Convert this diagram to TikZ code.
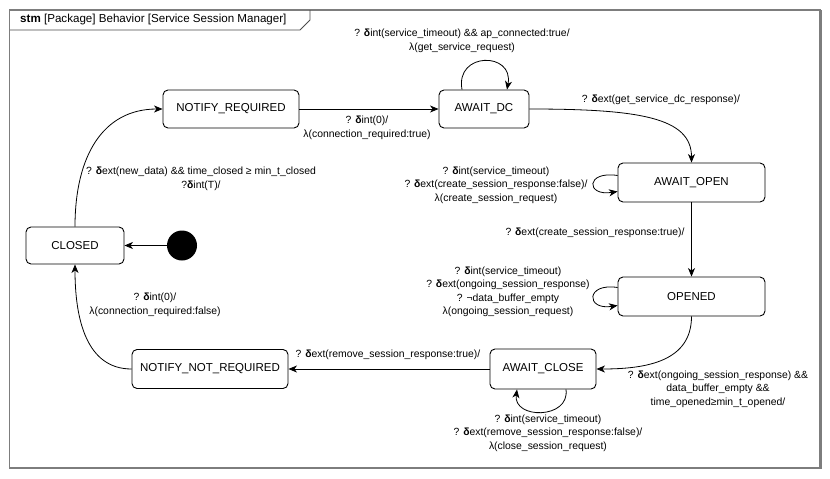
\documentclass[tikz,border=0pt]{standalone}
\usepackage{fontspec}
\setmainfont{Liberation Sans}
\usetikzlibrary{arrows.meta}
\newcommand{\dlt}{\textbf{δ}}
\definecolor{framegray}{RGB}{125,125,125}
\begin{document}
\begin{tikzpicture}[x=1pt,y=-1pt,
 state/.style={draw, rounded corners=5pt, line width=0.9pt, font=\fontsize{11.5}{13}\selectfont, inner sep=0pt},
 lbl/.style={font=\fontsize{10.4}{13.5}\selectfont, align=center, inner sep=0pt},
 tr/.style={draw, line width=0.8pt, -{Stealth[length=8.5pt,width=7pt,inset=2.5pt]}},
]
\useasboundingbox[fill=white] (0,0) rectangle (830,479);
% frame
\draw[framegray, line width=1.5pt] (9.5,10) rectangle (820,468);
\draw[framegray, line width=3pt] (820,10) -- (820,469);
\draw[line width=0.8pt, black!70] (10,30) -- (300,30) -- (310,20) -- (310,10);
\node[anchor=west, font=\fontsize{11.6}{13}\selectfont, inner sep=0pt] (title) at (20,19.5) {\textbf{stm} [Package] Behavior [Service Session Manager]};
% states
\node[state, minimum width=136pt, minimum height=38pt] (NR) at (231,109) {NOTIFY\_REQUIRED};
\node[state, minimum width=90pt, minimum height=38pt] (DC) at (484,109) {AWAIT\_DC};
\node[state, minimum width=147pt, minimum height=39pt] (AO) at (691.5,182.5) {AWAIT\_OPEN};
\node[state, minimum width=147pt, minimum height=39pt] (OP) at (691.5,296.5) {OPENED};
\node[state, minimum width=106pt, minimum height=40pt] (AC) at (543,369) {AWAIT\_CLOSE};
\node[state, minimum width=156pt, minimum height=39pt] (NNR) at (210,369) {NOTIFY\_NOT\_REQUIRED};
\node[state, minimum width=98pt, minimum height=37pt] (CL) at (75,245.5) {CLOSED};
\node[circle, fill=black, minimum size=30pt, inner sep=0pt] (init) at (182,245.5) {};
% transitions
\draw[tr] (init) -- (CL);
\draw[tr] (CL.north) .. controls +(0,-70) and +(-60,0) .. (NR.west);
\draw[tr] (NR) -- (DC);
\draw[tr] ([xshift=-22pt]DC.north) .. controls +(-7,-38) and +(7,-38) .. ([xshift=23pt]DC.north);
\draw[tr] (DC.east) .. controls +(110,0) and +(0,-45) .. (AO.north);
\draw[tr] ([yshift=7pt]AO.west) .. controls +(-32,-5) and +(-32,5) .. ([yshift=-9pt]AO.west);
\draw[tr] (AO) -- (OP);
\draw[tr] ([yshift=9pt]OP.west) .. controls +(-32,-5) and +(-32,5) .. ([yshift=-9pt]OP.west);
\draw[tr] (OP.south) .. controls +(0,45) and +(50,0) .. (AC.east);
\draw[tr] ([xshift=23pt]AC.south) .. controls +(4,30) and +(-4,30) .. ([xshift=-26pt]AC.south);
\draw[tr] (AC) -- (NNR);
\draw[tr] (NNR.west) .. controls +(-45,0) and +(0,55) .. (CL.south);
% labels
\node[lbl] (l1) at (201,179) {? \dlt ext(new\_data) \&\& time\_closed ≥ min\_t\_closed\\?\dlt int(T)/};
\node[lbl] (l2) at (367,128) {? \dlt int(0)/\\λ(connection\_required:true)};
\node[lbl] (l3) at (462,41) {? \dlt int(service\_timeout) \&\& ap\_connected:true/\\λ(get\_service\_request)};
\node[lbl] (l4) at (661,100) {? \dlt ext(get\_service\_dc\_response)/};
\node[lbl] (l5) at (496,185) {? \dlt int(service\_timeout)\\? \dlt ext(create\_session\_response:false)/\\λ(create\_session\_request)};
\node[lbl] (l6) at (595,233) {? \dlt ext(create\_session\_response:true)/};
\node[lbl] (l7) at (508,292) {? \dlt int(service\_timeout)\\? \dlt ext(ongoing\_session\_response)\\? ¬data\_buffer\_empty\\λ(ongoing\_session\_request)};
\node[lbl] (l8) at (718,389) {? \dlt ext(ongoing\_session\_response) \&\&\\data\_buffer\_empty \&\&\\time\_opened≥min\_t\_opened/};
\node[lbl] (l9) at (548,433) {? \dlt int(service\_timeout)\\? \dlt ext(remove\_session\_response:false)/\\λ(close\_session\_request)};
\node[lbl] (l10) at (388,355) {? \dlt ext(remove\_session\_response:true)/};
\node[lbl] (l11) at (155,305) {? \dlt int(0)/\\λ(connection\_required:false)};
\end{tikzpicture}
\end{document}
